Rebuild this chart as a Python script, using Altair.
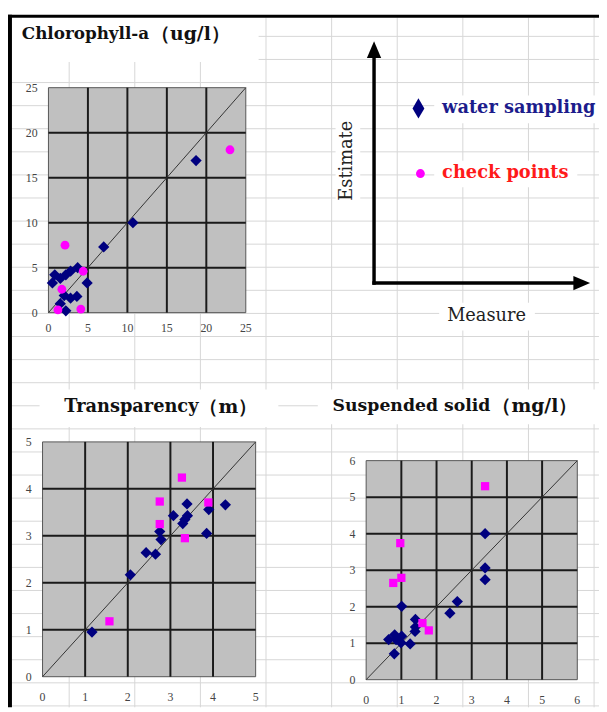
import altair as alt
import pandas as pd

# ---------------- texts ----------------
title_chl = ["Chlorophyll-a", "（ug/l）"]
title_tr = ["Transparency", "（m）"]
title_ss = ["Suspended solid", "（mg/l）"]
legend_labels = ["water sampling", "check points"]
axis_names = ["Measure", "Estimate"]

# ---------------- tick labels ----------------
chl_ticks = [0, 5, 10, 15, 20, 25]
tr_ticks = [0, 1, 2, 3, 4, 5]
ss_ticks = [0, 1, 2, 3, 4, 5, 6]

# ---------------- Chlorophyll-a ----------------
chl_ws_measure = [18.7, 10.7, 7.0, 3.7, 4.9, 0.5, 0.8, 1.5, 2.2, 2.8, 2.0, 2.8, 3.6, 2.2, 1.5]
chl_ws_estimate = [16.9, 10.0, 7.3, 5.0, 3.3, 3.3, 4.2, 3.8, 4.2, 4.6, 1.9, 1.6, 1.8, 0.2, 1.0]
chl_cp_measure = [23.0, 2.1, 4.4, 1.7, 1.2, 4.1]
chl_cp_estimate = [18.1, 7.5, 4.6, 2.6, 0.3, 0.4]

# ---------------- Transparency ----------------
tr_ws_measure = [1.16, 2.06, 2.43, 2.65, 2.75, 2.78, 3.07, 3.29, 3.34, 3.40, 3.39, 3.85, 3.90, 4.29]
tr_ws_estimate = [0.95, 2.17, 2.64, 2.61, 3.09, 2.92, 3.43, 3.26, 3.35, 3.43, 3.68, 3.05, 3.56, 3.66]
tr_cp_measure = [3.27, 2.75, 3.89, 2.75, 3.34, 1.57]
tr_cp_estimate = [4.24, 3.73, 3.71, 3.25, 2.95, 1.18]

# ---------------- Suspended solid ----------------
ss_ws_measure = [3.38, 3.38, 3.38, 2.59, 2.38, 1.01, 1.40, 1.40, 1.39, 0.64, 0.81, 1.01, 0.99, 1.25, 0.80, 0.85]
ss_ws_estimate = [4.00, 3.06, 2.74, 2.14, 1.82, 2.01, 1.65, 1.44, 1.32, 1.10, 1.23, 1.19, 1.01, 0.98, 0.71, 1.10]
ss_cp_measure = [3.38, 0.97, 0.77, 1.00, 1.60, 1.78]
ss_cp_estimate = [5.30, 3.74, 2.65, 2.79, 1.55, 1.35]

W, H = 599, 704
SERIF = "Liberation Serif"
WIDE = "DejaVu Serif"
NAVY = "#00007f"
MAGENTA = "#ff00ff"

one = alt.Data(values=[{"k": 0}])


def sc(dom, rng):
    return alt.Scale(domain=dom, range=rng, nice=False, zero=False)


def white_box(x, x2, y, y2):
    return alt.Chart(one).mark_rect(fill="white").encode(
        x=alt.value(x), x2=alt.value(x2), y=alt.value(y), y2=alt.value(y2))


def label(txt, x, y, size, color="#111", bold=False, align="left", angle=0, font=WIDE):
    kw = dict(font=font, fontSize=size, color=color, align=align, baseline="middle",
              fontWeight="bold" if bold else "normal")
    if angle:
        kw["angle"] = angle
    return alt.Chart(one).mark_text(**kw).encode(
        x=alt.value(x), y=alt.value(y), text=alt.value(txt))


def panel(ticks, xr, yr, ws_m, ws_e, cp_m, cp_e, cp_shape, cp_size, ylab_x, xlab_y):
    top = ticks[-1]

    def xs(f):
        return alt.X(f, scale=sc([0, top], xr), axis=None)

    def ys(f):
        return alt.Y(f, scale=sc([0, top], yr), axis=None)

    box = pd.DataFrame({"lo": [0], "hi": [top]})
    bg = alt.Chart(box).mark_rect(fill="#c0c0c0", stroke="#555555", strokeWidth=1).encode(
        x=xs("lo:Q"), x2="hi:Q", y=ys("lo:Q"), y2="hi:Q")
    inner = pd.DataFrame({"t": ticks[1:-1], "lo": 0, "hi": top})
    vg = alt.Chart(inner).mark_rule(color="#1a1a1a", strokeWidth=2).encode(
        x=xs("t:Q"), y=ys("lo:Q"), y2="hi:Q")
    hg = alt.Chart(inner).mark_rule(color="#1a1a1a", strokeWidth=2).encode(
        y=ys("t:Q"), x=xs("lo:Q"), x2="hi:Q")
    diag = alt.Chart(pd.DataFrame({"v": [0, top]})).mark_line(color="#333333", strokeWidth=1).encode(
        x=xs("v:Q"), y=ys("v:Q"))
    ws = alt.Chart(pd.DataFrame({"m": ws_m, "e": ws_e})).mark_point(
        shape="diamond", filled=True, color=NAVY, size=130, opacity=1).encode(
        x=xs("m:Q"), y=ys("e:Q"))
    cp = alt.Chart(pd.DataFrame({"m": cp_m, "e": cp_e})).mark_point(
        shape=cp_shape, filled=True, color=MAGENTA, size=cp_size, opacity=1).encode(
        x=xs("m:Q"), y=ys("e:Q"))
    labs = pd.DataFrame({"t": ticks, "s": [str(t) for t in ticks]})
    xl = alt.Chart(labs).mark_text(font=SERIF, fontSize=12, color="#444444",
                                   align="center", baseline="middle").encode(
        x=xs("t:Q"), y=alt.value(xlab_y), text="s:N")
    yl = alt.Chart(labs).mark_text(font=SERIF, fontSize=12, color="#444444",
                                   align="right", baseline="middle").encode(
        y=ys("t:Q"), x=alt.value(ylab_x), text="s:N")
    return [bg, vg, hg, diag, ws, cp, xl, yl]


# spreadsheet-like background grid (index -> pixel via linear scale)
vcols = pd.DataFrame({"i": list(range(9))})
hrows = pd.DataFrame({"i": list(range(30))})
sheet_v = alt.Chart(vcols).mark_rule(color="#d6d6d6", strokeWidth=1).encode(
    x=alt.X("i:Q", scale=sc([0, 1], [62, 128.5]), axis=None),
    y=alt.value(5), y2=alt.value(H))
sheet_h = alt.Chart(hrows).mark_rule(color="#d6d6d6", strokeWidth=1).encode(
    y=alt.Y("i:Q", scale=sc([0, 1], [24, 47.4]), axis=None),
    x=alt.value(4), x2=alt.value(W))

layers = [sheet_v, sheet_h,
          white_box(4, 254, 5, 50),
          white_box(32, 274, 382, 420),
          white_box(314, 599, 382, 417),
          white_box(432, 599, 84, 112),
          white_box(432, 577, 150, 177),
          white_box(332, 357, 102, 197),
          white_box(437, 534, 294, 322)]

# frame border
layers.append(alt.Chart(one).mark_rect(fill="black").encode(
    x=alt.value(0), x2=alt.value(4), y=alt.value(2), y2=alt.value(H)))
layers.append(alt.Chart(one).mark_rect(fill="black").encode(
    x=alt.value(0), x2=alt.value(W), y=alt.value(2), y2=alt.value(5)))

layers += panel(chl_ticks, [41, 241], [304, 76], chl_ws_measure, chl_ws_estimate,
                chl_cp_measure, chl_cp_estimate, "circle", 80, 30, 320)
layers += panel(tr_ticks, [35, 251], [673, 435], tr_ws_measure, tr_ws_estimate,
                tr_cp_measure, tr_cp_estimate, "square", 70, 24, 694)
layers += panel(ss_ticks, [363, 577], [676, 454], ss_ws_measure, ss_ws_estimate,
                ss_cp_measure, ss_cp_estimate, "square", 70, 352, 697)

# titles (main word bold, unit in parentheses slightly larger)
layers.append(label(title_chl[0], 14, 22, 17, bold=True))
layers.append(label(title_chl[1], 145, 22, 19, bold=True))
layers.append(label(title_tr[0], 57, 400, 18, bold=True))
layers.append(label(title_tr[1], 194, 400, 19, bold=True))
layers.append(label(title_ss[0], 329, 399, 17.5, bold=True))
layers.append(label(title_ss[1], 491, 399, 19, bold=True))

# legend diagram: axes arrows
layers.append(alt.Chart(one).mark_rule(color="black", strokeWidth=3.5, strokeCap="square").encode(
    x=alt.value(371), y=alt.value(274), y2=alt.value(40)))
layers.append(alt.Chart(one).mark_rule(color="black", strokeWidth=3.5, strokeCap="square").encode(
    x=alt.value(371), x2=alt.value(578), y=alt.value(274)))
layers.append(alt.Chart(one).mark_point(shape="M0,-1L0.85,1L-0.85,1Z", filled=True, color="black",
                                        size=289, opacity=1).encode(
    x=alt.value(371), y=alt.value(37.5)))
layers.append(alt.Chart(one).mark_point(shape="M1,0L-1,0.85L-1,-0.85Z", filled=True, color="black",
                                        size=289, opacity=1).encode(
    x=alt.value(581.5), y=alt.value(274)))
layers.append(label(axis_names[1], 344, 150, 18, color="#222", align="center", angle=270))
layers.append(label(axis_names[0], 485, 307, 18, color="#222", align="center"))

# legend entries
layers.append(alt.Chart(one).mark_point(shape="M0,-1.7L1,0L0,1.7L-1,0Z", filled=True, color=NAVY,
                                        size=144, opacity=1).encode(
    x=alt.value(416), y=alt.value(97)))
layers.append(label(legend_labels[0], 440, 97, 18, color="#1c1c8c", bold=True))
layers.append(alt.Chart(one).mark_point(shape="circle", filled=True, color=MAGENTA,
                                        size=80, opacity=1).encode(
    x=alt.value(418), y=alt.value(163)))
layers.append(label(legend_labels[1], 440, 163, 18, color="#ff1a1a", bold=True))

chart = alt.layer(*layers).resolve_scale(x="independent", y="independent").properties(
    width=W, height=H, autosize=alt.AutoSizeParams(type="none"), padding=0,
    background="white"
).configure_view(stroke=None)

chart.save("out.html", embed_options={"renderer": "svg", "actions": False})
